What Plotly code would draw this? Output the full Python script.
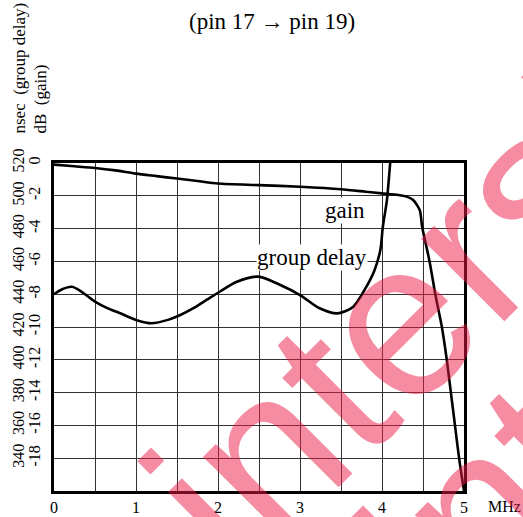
import plotly.graph_objects as go

# ---- data ----
gain_mhz = [0, 0.25, 0.5, 0.75, 1.0, 1.25, 1.5, 1.75, 2.0, 2.5, 3.0, 3.5, 3.8, 4.0, 4.2, 4.3,
            4.38, 4.46, 4.49, 4.58, 4.65, 4.73, 4.79, 4.84, 4.89, 4.94, 5.0]
gain_db = [-0.1, -0.2, -0.3, -0.45, -0.65, -0.8, -0.95, -1.1, -1.25, -1.35, -1.45, -1.6, -1.75, -1.85,
           -1.95, -2.05, -2.26, -2.87, -3.9, -6.0, -8.0, -10.0, -12.0, -14.0, -16.0, -18.0, -20.0]

delay_mhz = [0, 0.1, 0.22, 0.35, 0.5, 0.65, 0.8, 1.0, 1.19, 1.4, 1.54, 1.7, 1.86, 2.02, 2.23, 2.49,
             2.76, 3.0, 3.24, 3.46, 3.65, 3.81, 3.91, 3.98, 4.01, 4.06, 4.10, 4.13]
delay_ns = [440, 443, 444.5, 441, 435.5, 431.5, 428.5, 424.3, 422.3, 424.5, 427.3, 431.5, 436.5, 441.5,
            447.6, 450.7, 445.6, 439.5, 431.4, 428.3, 432.4, 444.6, 454.8, 467, 481, 497.4, 520, 535]

x_ticks = [0, 1, 2, 3, 4, 5]
x_labels = ["0", "1", "2", "3", "4", "5"]
db_ticks = [0, -2, -4, -6, -8, -10, -12, -14, -16, -18]
db_labels = ["0", "-2", "-4", "-6", "-8", "-10", "-12", "-14", "-16", "-18"]
ns_ticks = [520, 500, 480, 460, 440, 420, 400, 380, 360, 340]
ns_labels = ["520", "500", "480", "460", "440", "420", "400", "380", "360", "340"]

title_text = "(pin 17 \u2192 pin 19)"
ns_title = "nsec\u00a0\u00a0(group delay)"
db_title = "dB\u00a0\u00a0(gain)"
watermark = "intersil"

SERIF = "Liberation Serif"
W, H = 523, 517
ML, MR, MT, MB = 0, W - 464, 163, H - 491
PW = W - ML - MR
PH = H - MT - MB

def px(x):   # screen pixel x -> paper fraction
    return (x - ML) / PW

def py(y):   # screen pixel y -> paper fraction
    return (H - MB - y) / PH

def note(text, x, y, size, **kw):
    d = dict(text=text, x=px(x), y=py(y), xref="paper", yref="paper",
             xanchor="center", yanchor="middle", showarrow=False,
             font=dict(family=SERIF, size=size, color="black"))
    d.update(kw)
    return d

fig = go.Figure()
fig.add_trace(go.Scatter(x=gain_mhz, y=gain_db, mode="lines",
                         line=dict(color="black", width=2.6, shape="spline", smoothing=0.7),
                         showlegend=False, hoverinfo="skip"))
fig.add_trace(go.Scatter(x=delay_mhz, y=delay_ns, mode="lines", yaxis="y2",
                         line=dict(color="black", width=2.6, shape="spline", smoothing=0.8),
                         showlegend=False, hoverinfo="skip"))

wm_font = dict(family="Liberation Sans", size=222, color="rgba(235,25,70,0.5)")

fig.update_layout(
    width=W, height=H,
    margin=dict(l=ML, r=MR, t=MT, b=MB, autoexpand=False),
    paper_bgcolor="white", plot_bgcolor="white",
    font=dict(family=SERIF, size=16, color="black"),
    xaxis=dict(domain=[px(54), 1], range=[0, 5], tickvals=x_ticks, ticktext=x_labels,
               showgrid=True, gridcolor="#333", gridwidth=1,
               minor=dict(dtick=0.5, tick0=0, showgrid=True, gridcolor="#333", gridwidth=1),
               showline=True, linecolor="black", linewidth=2.5, mirror=True,
               ticks="", zeroline=False, ticklabelstandoff=0, automargin=False,
               tickfont=dict(family=SERIF, size=16)),
    yaxis=dict(range=[-20, 0], tickvals=db_ticks, ticktext=db_labels, tickangle=-90,
               showgrid=True, gridcolor="#333", gridwidth=1,
               showline=True, linecolor="black", linewidth=2.5, mirror=True,
               ticks="", zeroline=False, ticklabelstandoff=5, automargin=False,
               tickfont=dict(family=SERIF, size=16)),
    yaxis2=dict(range=[320, 520], overlaying="y", anchor="free", position=px(27), side="left",
                tickvals=ns_ticks, ticktext=ns_labels, tickangle=-90, automargin=False,
                showgrid=False, showline=False, ticks="", zeroline=False, ticklabelstandoff=0,
                tickfont=dict(family=SERIF, size=16)),
    annotations=[
        note(title_text, 272, 22, 23),
        note(ns_title, 19, 136, 17, yanchor="bottom", textangle=-90),
        note(db_title, 40, 136, 17, yanchor="bottom", textangle=-90),
        note("MHz", 504, 506, 16),
        note("gain", 345, 210, 23, bgcolor="white", borderpad=0),
        note("group delay", 312, 257, 23, bgcolor="white", borderpad=0),
        dict(text=watermark, x=px(413), y=py(304), xref="paper", yref="paper",
             xanchor="center", yanchor="middle", textangle=-45, showarrow=False, font=wm_font),
        dict(text=watermark, x=px(625), y=py(362), xref="paper", yref="paper",
             xanchor="center", yanchor="middle", textangle=-45, showarrow=False, font=wm_font),
    ],
)

fig.write_html("out.html", config={"displayModeBar": False},
               post_script="document.body.style.margin='0';document.body.style.overflow='hidden';")
